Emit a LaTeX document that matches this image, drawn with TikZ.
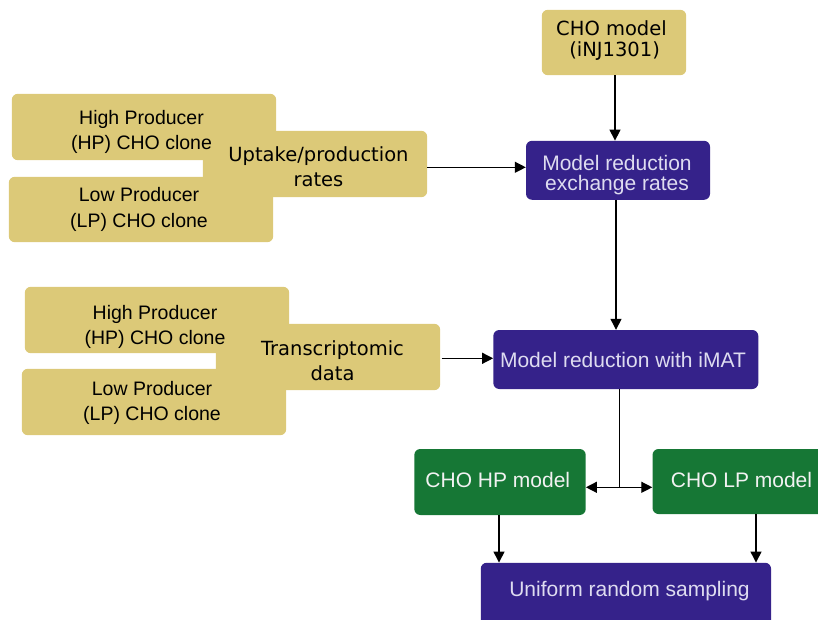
\documentclass[tikz,border=0pt]{standalone}
\usepackage{fontspec}
\setmainfont{Liberation Sans}
\newfontfamily\dejavu{DejaVu Sans}
\usetikzlibrary{arrows.meta,backgrounds}
\definecolor{sand}{HTML}{DCC978}
\definecolor{indigo}{HTML}{35228A}
\definecolor{leaf}{HTML}{167735}
\definecolor{pale}{HTML}{DEDCF0}
% centred text block, moved right by #1 and up by #2
\newcommand\boxtext[3]{\hspace*{#1}\hspace*{#1}\raisebox{#2}[\height][\depth]{\begin{tabular}{@{}c@{}}#3\end{tabular}}}
\tikzset{
  box/.style={inner sep=0pt, font=\fontsize{21}{25}\selectfont},
  sandbox/.style={box, text=black},
  clonebox/.style={sandbox, font=\fontsize{19.5}{25}\selectfont},
  databox/.style={sandbox, font=\dejavu\fontsize{19.5}{25}\selectfont},
  procbox/.style={box, rounded corners=6pt, fill=indigo, text=pale},
  modelbox/.style={box, rounded corners=6pt, fill=leaf, text=white!95!black},
  flow/.style={draw=black, line width=1.3pt, -{Triangle[length=11pt,width=11pt]}},
  plainline/.style={draw=black, line width=1.3pt},
}
\begin{document}
\begin{tikzpicture}[x=1pt,y=-1pt]
\useasboundingbox (0,0) rectangle (818,620);
\begin{scope}
\clip (0,0) rectangle (818,620);

% reference model
\node[databox, minimum width=144pt, minimum height=65pt] (cho) at (614,42.5)
  {\boxtext{-2.5pt}{1.3pt}{CHO model\\[-4pt]~(iNJ1301)}};

% measured rates from the two clones
\node[databox, minimum width=224pt, minimum height=66pt] (up) at (315,164)
  {\boxtext{3.5pt}{-5.5pt}{Uptake/production\\rates}};
\node[clonebox, minimum width=264pt, minimum height=66pt] (hp1) at (144,127)
  {\boxtext{-2.5pt}{-5.5pt}{High Producer\\(HP) CHO clone}};
\node[clonebox, minimum width=264pt, minimum height=65pt] (lp1) at (141,209.5)
  {\boxtext{-2pt}{0pt}{Low Producer\\(LP) CHO clone}};

% transcriptomic data from the two clones
\node[databox, minimum width=224pt, minimum height=66pt] (tr) at (328,357)
  {\boxtext{4.5pt}{-5.5pt}{Transcriptomic\\data}};
\node[clonebox, minimum width=264pt, minimum height=66pt] (hp2) at (157,320)
  {\boxtext{-2pt}{-6.5pt}{High Producer\\(HP) CHO clone}};
\node[clonebox, minimum width=264pt, minimum height=66pt] (lp2) at (154,402)
  {\boxtext{-2pt}{-0.5pt}{Low Producer\\(LP) CHO clone}};

% sand boxes go under all of their texts
\begin{pgfonlayer}{background}
  \foreach \n in {cho,up,hp1,lp1,tr,hp2,lp2}
    \fill[sand, rounded corners=6pt] (\n.south west) rectangle (\n.north east);
\end{pgfonlayer}

% processing steps
\node[procbox, minimum width=184pt, minimum height=59pt] (mre) at (618,170.3)
  {\boxtext{-1pt}{-5.4pt}{Model reduction\\[-5pt]exchange rates}};
\node[procbox, minimum width=265pt, minimum height=59pt] (imat) at (625.8,359.5)
  {\boxtext{-2.8pt}{-2.8pt}{Model reduction with iMAT}};
\node[modelbox, minimum width=171.4pt, minimum height=66pt] (hpm) at (500,482)
  {\boxtext{-2.2pt}{0pt}{CHO HP model}};
\node[modelbox, minimum width=183pt, minimum height=65pt] (lpm) at (744,481.5)
  {\boxtext{-2.5pt}{-0.8pt}{CHO LP model}};
\node[procbox, minimum width=290.3pt, minimum height=67.3pt] (urs) at (625.9,596.4)
  {\boxtext{3.6pt}{4.7pt}{Uniform random sampling}};

% connectors
\coordinate (cx) at (615,0);
\coordinate (mx) at (616,0);
\coordinate (uy) at (0,167.3);
\coordinate (ty) at (441.7,358.3);
\coordinate (split) at (619.3,487.3);
\coordinate (hx) at (499,0);
\coordinate (lx) at (756,0);
\draw[flow] (cho.south -| cx) -- (mre.north -| cx);
\draw[flow] (up.east |- uy) -- (mre.west |- uy);
\draw[flow] (mre.south -| mx) -- (imat.north -| mx);
\draw[flow] (ty) -- (ty -| imat.west);
\draw[plainline] (imat.south -| split) -- (split);
\draw[flow] (split) -- (split -| hpm.east);
\draw[flow] (split) -- (split -| lpm.west);
\draw[flow] (hpm.south -| hx) -- (urs.north -| hx);
\draw[flow] (lpm.south -| lx) -- (urs.north -| lx);
\end{scope}
\end{tikzpicture}
\end{document}
